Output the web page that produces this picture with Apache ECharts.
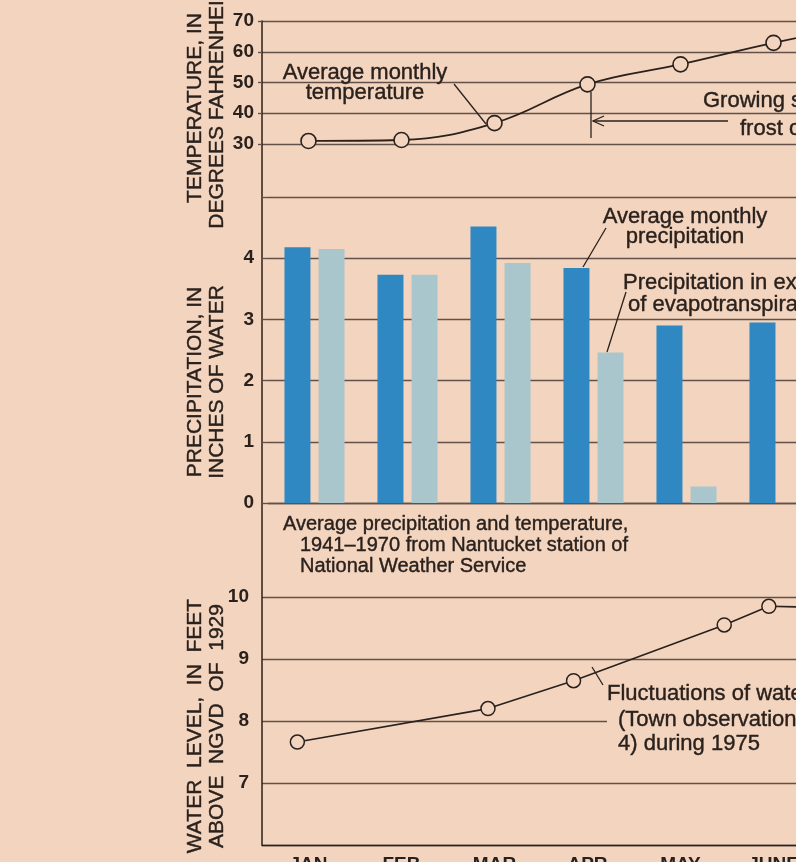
<!DOCTYPE html>
<html>
<head>
<meta charset="utf-8">
<script src="https://cdn.jsdelivr.net/npm/echarts@6/dist/echarts.min.js"></script>
<style>
html, body { margin: 0; padding: 0; background: #f3d5bf; }
#chart { width: 796px; height: 862px; }
</style>
</head>
<body>
<div id="chart"></div>
<script>
// data
var months = ['JAN', 'FEB', 'MAR', 'APR', 'MAY', 'JUNE', 'JULY'];
var avgTemp = [31.0, 31.3, 36.8, 49.4, 55.9, 62.9, 69.0];          // deg F
var avgPrecip = [4.18, 3.73, 4.52, 3.84, 2.90, 2.95];                // inches
var excessPrecip = [4.15, 3.73, 3.92, 2.46, 0.27, 0];                // inches
var wellMonth = [0.38, 2.43, 3.35, 4.97, 5.45, 6.40];                // months after Jan 1
var wellLevel = [7.66, 8.20, 8.65, 9.55, 9.85, 9.82];                // feet above NGVD

var BG = '#f3d5bf';
var INK = '#2a211d';
var RULE = '#62514a';
var FONT = '"Liberation Sans", Arial, sans-serif';

var x0 = 262, monthW = 93;
var plotW = months.length * monthW;

var rule = { color: RULE, width: 1.4 };
var tickFont = { color: INK, fontSize: 19, fontWeight: 'bold', fontFamily: FONT };

function txt(x, y, text, size, extra) {
	var st = {
		text: text, fill: INK, fontSize: size, fontFamily: FONT,
		align: 'left', verticalAlign: 'middle', lineHeight: 21,
		stroke: INK, lineWidth: 0.4   // scan ink is a bit heavy
	};
	for (var k in extra) st[k] = extra[k];
	return { type: 'text', x: x, y: y, z: 100, style: st };
}
function title(x, y, text) {
	var el = txt(x, y, text, 21, { align: 'center', lineHeight: 22 });
	el.rotation = Math.PI / 2;
	return el;
}
function seg(x1, y1, x2, y2) {
	return { type: 'line', z: 100, shape: { x1: x1, y1: y1, x2: x2, y2: y2 }, style: { stroke: INK, lineWidth: 1.3 } };
}
function box(top, height, left) {
	// the figure is cut off on the right, so the plot runs past the page edge
	return { left: left || x0, top: top, width: plotW, height: height, outerBoundsMode: 'none' };
}

var chart = echarts.init(document.getElementById('chart'));

var option = {
	backgroundColor: BG,
	animation: false,
	textStyle: { fontFamily: FONT, color: INK },
	grid: [
		box(21, 824),          // shared left frame line
		box(21, 123),          // temperature
		box(197, 306, x0 + 6), // precipitation
		box(597, 248)          // water level
	],
	xAxis: [
		{ gridIndex: 0, type: 'value', min: 0, max: 1, show: false },
		{ gridIndex: 1, type: 'category', data: months, show: false },
		{
			gridIndex: 2, type: 'category', data: months,
			axisLine: { lineStyle: rule }, axisTick: { show: false }, axisLabel: { show: false }
		},
		{
			gridIndex: 3, type: 'category', data: months,
			axisLine: { lineStyle: { color: INK, width: 1.4 } },
			axisTick: { inside: true, length: 12, lineStyle: { color: INK, width: 1.2 } },
			axisLabel: { color: INK, fontSize: 19, fontWeight: 'bold', margin: 10 }
		},
		{ gridIndex: 3, type: 'value', min: 0, max: months.length, show: false }
	],
	yAxis: [
		{
			gridIndex: 0, type: 'value', min: 0, max: 1,
			axisLine: { show: true, lineStyle: { color: INK, width: 1.5 } },
			axisTick: { show: false }, axisLabel: { show: false }, splitLine: { show: false }
		},
		{
			gridIndex: 1, type: 'value', min: 30, max: 70, interval: 10,
			axisLine: { show: false },
			axisTick: { show: true, length: 4, lineStyle: rule },
			axisLabel: tickFont, splitLine: { lineStyle: rule }
		},
		{
			gridIndex: 2, type: 'value', min: 0, max: 5, interval: 1, offset: 6,
			axisLine: { show: false },
			axisTick: { show: true, inside: true, length: 6, lineStyle: rule },
			axisLabel: Object.assign({ margin: 8, formatter: function (v) { return v > 4 ? '' : v; } }, tickFont),
			splitLine: { lineStyle: rule }
		},
		{
			gridIndex: 3, type: 'value', min: 6, max: 10, interval: 1,
			axisLine: { show: false }, axisTick: { show: false },
			axisLabel: Object.assign({ margin: 13, showMinLabel: false }, tickFont),
			splitLine: { lineStyle: rule }
		}
	],
	series: [
		{
			name: 'Average monthly temperature', type: 'line',
			xAxisIndex: 1, yAxisIndex: 1, data: avgTemp, smooth: 0.4,
			symbol: 'circle', symbolSize: 15,
			lineStyle: { color: INK, width: 1.8 },
			itemStyle: { color: BG, borderColor: INK, borderWidth: 1.6 }
		},
		{
			name: 'Average monthly precipitation', type: 'bar',
			xAxisIndex: 2, yAxisIndex: 2, data: avgPrecip,
			barWidth: 26, barGap: '31%',
			itemStyle: { color: '#2f88c2' }
		},
		{
			name: 'Precipitation in excess of evapotranspiration', type: 'bar',
			xAxisIndex: 2, yAxisIndex: 2, data: excessPrecip,
			barWidth: 26, barGap: '31%',
			itemStyle: { color: '#a9c6cd' }
		},
		{
			name: 'Water level 1975', type: 'line',
			xAxisIndex: 4, yAxisIndex: 3,
			data: wellMonth.map(function (m, i) { return [m, wellLevel[i]]; }),
			symbol: 'circle', symbolSize: 14,
			lineStyle: { color: INK, width: 1.6 },
			itemStyle: { color: BG, borderColor: INK, borderWidth: 1.5 }
		}
	],
	graphic: [
		// axis titles
		title(206, 108, 'TEMPERATURE, IN\nDEGREES FAHRENHEIT'),
		title(206, 382, 'PRECIPITATION, IN\nINCHES OF WATER'),
		title(206, 726, 'WATER  LEVEL,  IN  FEET\nABOVE  NGVD  OF  1929'),

		// temperature notes
		txt(365, 83, 'Average monthly\ntemperature', 22, { align: 'center', lineHeight: 20 }),
		seg(454, 84, 486, 124),
		txt(703, 101, 'Growing season', 22),
		txt(740, 129, 'frost occurrence', 22),
		seg(591, 92, 591, 138),
		seg(593, 121, 728, 121),
		{ type: 'polyline', z: 100, shape: { points: [[604, 116], [593, 121], [604, 126]] }, style: { stroke: INK, lineWidth: 1.3, fill: null } },

		// precipitation notes
		txt(685, 227, 'Average monthly\nprecipitation', 22, { align: 'center', lineHeight: 20 }),
		seg(606, 228, 583, 267),
		txt(623, 283, 'Precipitation in excess', 22),
		txt(628, 305, 'of evapotranspiration', 22),
		seg(626, 292, 607, 352),

		// source caption
		txt(283, 524, 'Average precipitation and temperature,', 20),
		txt(300, 545, '1941\u20131970 from Nantucket station of', 20),
		txt(300, 566, 'National Weather Service', 20),

		// water level notes
		seg(592, 667, 603, 685),
		txt(607, 694, 'Fluctuations of water level', 22),
		txt(607, 720, '(Town observation well', 22, { backgroundColor: BG, padding: [1, 0, 1, 11] }),
		txt(618, 744, '4) during 1975', 22)
	]
};

chart.setOption(option);
</script>
</body>
</html>
